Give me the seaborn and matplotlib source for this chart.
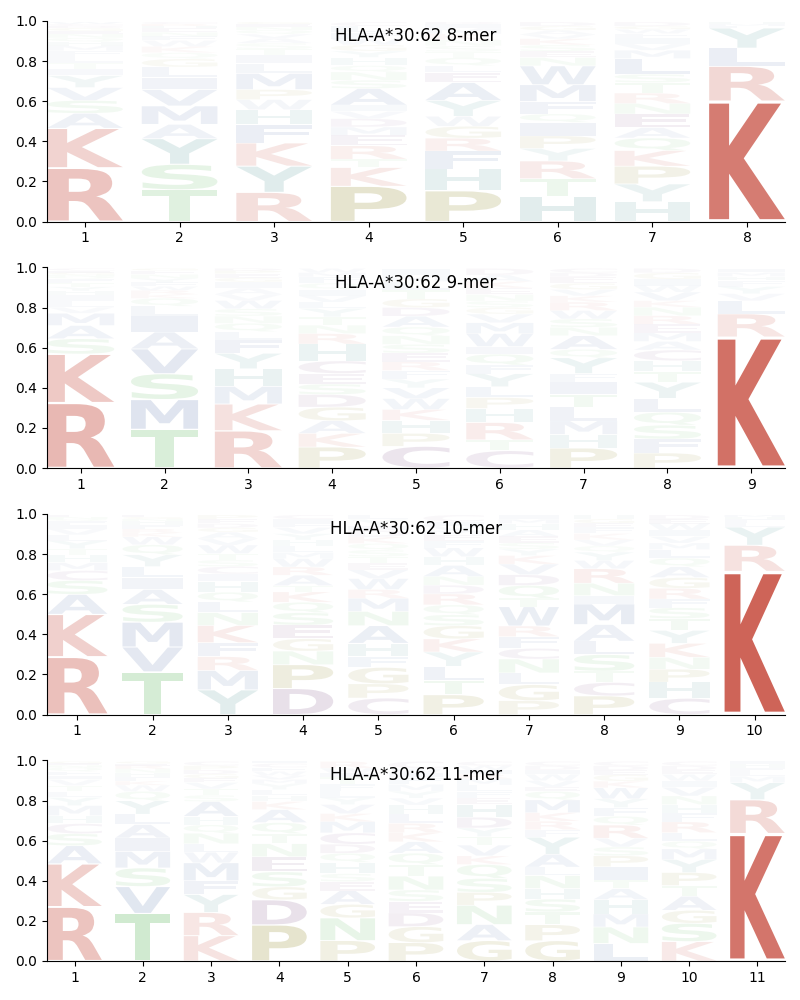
import numpy as np
import matplotlib
matplotlib.use("Agg")
import matplotlib.pyplot as plt
import seaborn as sns
from matplotlib.textpath import TextPath
from matplotlib.patches import PathPatch
from matplotlib.font_manager import FontProperties
from matplotlib.transforms import Affine2D

# ---------------- data (letters stacked bottom -> top, with frequencies) ----------------
titles = ["HLA-A*30:62 8-mer", "HLA-A*30:62 9-mer", "HLA-A*30:62 10-mer", "HLA-A*30:62 11-mer"]

letters_8mer = [
    "RKASVYITLFMHQNEGDCW",
    "TSYAMVILGQKWFNEHRC",
    "RYKFHWPMLITSAVQNEG",
    "PKTREMDVIASNQHYGWFLC",
    "PHFRGWYAELQTSNKMID",
    "HTRYPIQFMWNESKVAGD",
    "HYPKQAENRTSLMVIFWGD",
    "KRLYFMH",
]
freqs_8mer = [
    [.27, .20, .075, .065, .065, .06, .035, .03, .03, .03, .025, .02, .02, .02, .015, .015, .01, .01, .01],
    [.155, .125, .125, .07, .09, .08, .06, .05, .04, .03, .03, .03, .02, .02, .02, .01, .01, .01],
    [.145, .13, .115, .09, .075, .05, .05, .08, .05, .04, .03, .03, .025, .02, .02, .015, .015, .01],
    [.17, .09, .04, .065, .05, .04, .04, .035, .03, .08, .04, .04, .03, .04, .03, .03, .03, .03, .03, .02],
    [.155, .11, .09, .065, .06, .05, .08, .09, .05, .035, .04, .03, .03, .03, .03, .03, .02, .01],
    [.12, .085, .085, .06, .06, .065, .04, .06, .08, .09, .04, .03, .03, .03, .02, .02, .02, .02],
    [.095, .085, .085, .075, .06, .05, .065, .05, .05, .05, .04, .075, .04, .03, .03, .02, .02, .015, .02],
    [.60, .175, .09, .10, .01, .01, .01],
]

letters_9mer = [
    "RKSAMVLIHYTFQNGEC",
    "TMSVAILQKRWFYNEG",
    "RKMHYFLQNSWVAIGEPD",
    "PKAGDSECHRNTYLVIQFMW",
    "CPHKWVYFRESNQADGTLMI",
    "CTRHPLYFQIWMVGSNEKAD",
    "PHMLTIFYQANSWRKVGEDC",
    "PFSQLYTHCAMERNKVWIGD",
    "KRLVYFHMI",
]
freqs_9mer = [
    [.32, .24, .075, .065, .06, .03, .03, .03, .02, .02, .02, .02, .01, .01, .01, .01, .01],
    [.195, .15, .13, .125, .085, .08, .05, .04, .02, .02, .02, .02, .02, .02, .02, .01],
    [.18, .13, .085, .085, .075, .065, .04, .04, .035, .035, .04, .03, .03, .03, .02, .02, .015, .01],
    [.10, .065, .06, .065, .06, .05, .05, .06, .08, .05, .04, .04, .04, .03, .03, .03, .03, .03, .02, .02],
    [.10, .06, .06, .05, .05, .05, .04, .04, .04, .04, .04, .04, .04, .05, .04, .04, .04, .04, .03, .03],
    [.08, .05, .08, .065, .05, .05, .06, .04, .05, .035, .06, .05, .04, .03, .03, .03, .03, .03, .03, .03],
    [.095, .065, .065, .065, .06, .06, .04, .075, .04, .065, .04, .04, .04, .04, .03, .03, .03, .03, .02, .02],
    [.07, .065, .065, .06, .065, .075, .05, .05, .05, .04, .04, .04, .04, .04, .03, .04, .03, .03, .03, .02],
    [.65, .115, .065, .035, .035, .03, .02, .02, .02],
]

letters_10mer = [
    "RKASCMHTYLVIFQNE",
    "TVMSAILYQWKRFHNGE",
    "YMRFKNLQHICSTWVAGDEP",
    "DPNGESQKTARWMLHYVFIC",
    "CPGFHANMRWVETSQKDIYL",
    "PTLYKGSQRDNAHWFEMVIC",
    "PGLNCFRWTQDVKYSEAHMI",
    "PCTSLAMINRWYQVKFEGH",
    "CHPNKYTSFRGAQLMVIWED",
    "KRYLFHM",
]
freqs_10mer = [
    [.29, .215, .10, .07, .05, .04, .04, .03, .04, .03, .03, .02, .02, .01, .01, .01],
    [.215, .125, .125, .09, .075, .06, .055, .06, .05, .04, .02, .02, .02, .02, .01, .01, .01],
    [.115, .09, .065, .065, .08, .06, .05, .045, .05, .035, .035, .03, .03, .04, .03, .03, .02, .02, .02, .02],
    [.125, .115, .065, .06, .065, .06, .05, .05, .03, .05, .04, .04, .03, .03, .03, .03, .03, .02, .02, .02],
    [.075, .065, .075, .05, .06, .08, .065, .06, .04, .05, .04, .03, .03, .03, .03, .03, .03, .02, .03, .02],
    [.09, .065, .065, .065, .06, .06, .05, .045, .05, .04, .04, .05, .04, .04, .03, .03, .02, .02, .02, .03],
    [.065, .075, .055, .065, .05, .055, .05, .09, .04, .06, .05, .05, .04, .03, .03, .03, .03, .03, .02, .02],
    [.09, .065, .055, .08, .065, .08, .10, .04, .06, .07, .04, .04, .03, .03, .03, .03, .02, .02, .02],
    [.075, .075, .06, .055, .065, .06, .055, .05, .04, .05, .05, .05, .04, .04, .03, .03, .03, .03, .02, .02],
    [.71, .13, .09, .02, .02, .01, .01],
]

letters_11mer = [
    "RKASCHMYLTVIFQNEG",
    "TVSMIALYQWKFHNREG",
    "KRYFMWLNQHASTVEGDPC",
    "PDGSENTQAKHLYMVWFCI",
    "PNGAESHQDCMKVYLFTIWR",
    "PGDESNTQAKRLHVYMFIWC",
    "GANPSQKVTYDHEFLMRIWC",
    "GPTSHNLAYFRKMQEVWIDC",
    "LNMHATIPSVRQFYWKGEDC",
    "KSGATPYMQLRFHNVIWEDC",
    "KRYMLFHI",
]
freqs_11mer = [
    [.27, .215, .09, .06, .05, .04, .05, .04, .03, .03, .03, .02, .02, .02, .01, .01, .01],
    [.23, .13, .09, .08, .065, .065, .05, .065, .045, .03, .02, .02, .02, .02, .015, .01, .01],
    [.12, .11, .085, .065, .085, .05, .04, .05, .04, .04, .07, .03, .03, .03, .02, .02, .02, .02, .02],
    [.18, .125, .065, .075, .075, .065, .05, .055, .065, .04, .03, .03, .03, .02, .02, .02, .02, .02, .01],
    [.09, .10, .06, .06, .04, .035, .05, .04, .04, .05, .05, .035, .04, .03, .03, .03, .03, .02, .02, .03],
    [.08, .07, .06, .05, .05, .06, .05, .05, .05, .04, .04, .04, .04, .03, .03, .03, .03, .02, .02, .03],
    [.095, .075, .09, .06, .065, .065, .04, .05, .04, .04, .05, .06, .03, .03, .03, .03, .02, .02, .02, .02],
    [.095, .075, .06, .06, .05, .06, .04, .06, .08, .035, .04, .04, .06, .04, .02, .03, .03, .02, .02, .02],
    [.08, .075, .06, .065, .05, .04, .06, .05, .04, .04, .06, .04, .04, .04, .05, .03, .03, .02, .02, .02],
    [.09, .085, .06, .065, .05, .06, .06, .05, .035, .04, .05, .04, .04, .04, .04, .03, .03, .02, .02, .02],
    [.60, .16, .08, .03, .02, .02, .02, .01],
]

panels = [
    (titles[0], letters_8mer, freqs_8mer),
    (titles[1], letters_9mer, freqs_9mer),
    (titles[2], letters_10mer, freqs_10mer),
    (titles[3], letters_11mer, freqs_11mer),
]

# residue colour groups
group_colors = {
    "KR": "#c64a3c",        # basic
    "DEC": "#6e3a78",       # acidic / C
    "STNQ": "#5cb85c",      # polar
    "AVLIMFW": "#4a6aa6",   # hydrophobic
    "YH": "#3e8c8c",        # aromatic
    "GP": "#8c8420",        # special
}
color_of = {}
for k, c in group_colors.items():
    for ch in k:
        color_of[ch] = c

# ---------------- style ----------------
sns.set_style("ticks", rc={"axes.edgecolor": "black", "text.color": "black",
                           "xtick.color": "black", "ytick.color": "black",
                           "axes.labelcolor": "black"})
plt.rcParams["font.family"] = ["DejaVu Sans"]
plt.rcParams["xtick.major.size"] = 3.5
plt.rcParams["ytick.major.size"] = 3.5

fp = FontProperties(family="DejaVu Sans", weight="bold")
_path_cache = {}


def letter_path(ch):
    if ch not in _path_cache:
        p = TextPath((0, 0), ch, size=1, prop=fp)
        _path_cache[ch] = (p, p.get_extents())
    return _path_cache[ch]


def draw_letter(ax, ch, xc, y0, w, h, color, alpha):
    p, ext = letter_path(ch)
    bw, bh = ext.width, ext.height
    tr = (Affine2D().translate(-ext.x0, -ext.y0)
          .scale(w / bw, h / bh)
          .translate(xc - w / 2, y0))
    patch = PathPatch(tr.transform_path(p), facecolor=color, edgecolor="none",
                      alpha=alpha, lw=0)
    ax.add_patch(patch)


fig, axes = plt.subplots(4, 1, figsize=(8, 10), dpi=100)
fig.subplots_adjust(left=0.059, right=0.981, top=0.979, bottom=0.039, hspace=0.229)

for ax, (title, lets, frs) in zip(axes, panels):
    n = len(lets)
    for i, (col_letters, col_freqs) in enumerate(zip(lets, frs)):
        f = np.array(col_freqs, dtype=float)
        f = f / f.sum() * 0.995
        pos = i + 1
        y = 0.0
        for ch, h in zip(col_letters, f):
            a = float(np.clip(1.2 * h, 0.035, 0.9))
            draw_letter(ax, ch, pos, y + h * 0.02, 0.8, h * 0.96, color_of[ch], a)
            y += h
    ax.set_xlim(0.6, n + 0.4)
    ax.set_ylim(0, 1)
    ax.set_xticks(range(1, n + 1))
    ax.set_xticklabels([str(k) for k in range(1, n + 1)])
    ax.set_yticks([0, 0.2, 0.4, 0.6, 0.8, 1.0])
    ax.set_yticklabels(["0.0", "0.2", "0.4", "0.6", "0.8", "1.0"])
    ax.tick_params(labelsize=10)
    ax.text(0.5, 0.925, title, transform=ax.transAxes, ha="center", va="center",
            fontsize=12, zorder=10)
    sns.despine(ax=ax)

fig.savefig("out.png", dpi=100)
